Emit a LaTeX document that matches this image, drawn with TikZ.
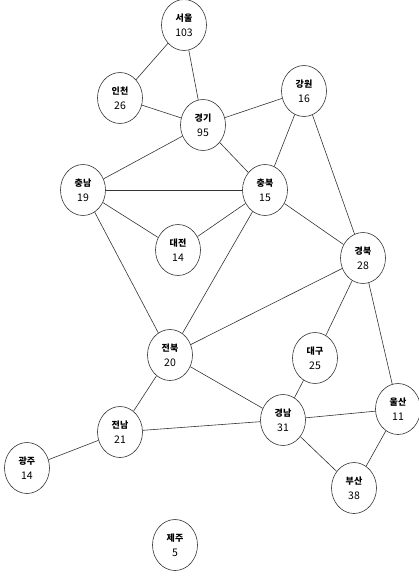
\documentclass[tikz,border=0pt]{standalone}
\usepackage{fontspec}
\setmainfont{Noto Sans CJK KR}
\usetikzlibrary{
	shapes.geometric,
	positioning
}

\begin{document}
\begin{tikzpicture}[
		x=1pt, y=-1pt,
		region/.style={draw=black!80, ellipse, semithick, align=center, inner sep=0pt, minimum width=45pt, minimum height=51pt, font=\fontsize{10.5}{15}\selectfont},
		link/.style={draw=black!80, semithick}
		]
		
		\useasboundingbox (0,0) rectangle (419,578);
		
		% Nodes
		\node[region] (seoul) at (184,25) {\textbf{\small 서울}\\103};
		\node[region] (incheon) at (120,98) {\textbf{\small 인천}\\26};
		\node[region] (gyeonggi) at (203,125) {\textbf{\small 경기}\\95};
		\node[region] (gangwon) at (304,91) {\textbf{\small 강원}\\16};
		\node[region] (chungnam) at (83,190) {\textbf{\small 충남}\\19};
		\node[region] (chungbuk) at (265,190) {\textbf{\small 충북}\\15};
		\node[region] (daejeon) at (178,250) {\textbf{\small 대전}\\14};
		\node[region] (gyeongbuk) at (363,258) {\textbf{\small 경북}\\28};
		\node[region] (jeonbuk) at (170,355) {\textbf{\small 전북}\\20};
		\node[region] (daegu) at (315,358) {\textbf{\small 대구}\\25};
		\node[region] (ulsan) at (398,409) {\textbf{\small 울산}\\11};
		\node[region] (gyeongnam) at (283,420) {\textbf{\small 경남}\\31};
		\node[region] (jeonnam) at (120,432) {\textbf{\small 전남}\\21};
		\node[region] (gwangju) at (27,468) {\textbf{\small 광주}\\14};
		\node[region] (busan) at (354,488) {\textbf{\small 부산}\\38};
		\node[region] (jeju) at (175,545) {\textbf{\small 제주}\\5};
		
		% Edges
		\draw[link] (seoul) -- (incheon);
		\draw[link] (seoul) -- (gyeonggi);
		\draw[link] (incheon) -- (gyeonggi);
		\draw[link] (gyeonggi) -- (gangwon);
		\draw[link] (gyeonggi) -- (chungnam);
		\draw[link] (gyeonggi) -- (chungbuk);
		\draw[link] (gangwon) -- (chungbuk);
		\draw[link] (gangwon) -- (gyeongbuk);
		\draw[link] (chungnam) -- (chungbuk);
		\draw[link] (chungnam) -- (daejeon);
		\draw[link] (chungnam) -- (jeonbuk);
		\draw[link] (daejeon) -- (chungbuk);
		\draw[link] (chungbuk) -- (jeonbuk);
		\draw[link] (chungbuk) -- (gyeongbuk);
		\draw[link] (gyeongbuk) -- (jeonbuk);
		\draw[link] (gyeongbuk) -- (daegu);
		\draw[link] (gyeongbuk) -- (ulsan);
		\draw[link] (jeonbuk) -- (jeonnam);
		\draw[link] (jeonbuk) -- (gyeongnam);
		\draw[link] (daegu) -- (gyeongnam);
		\draw[link] (ulsan) -- (gyeongnam);
		\draw[link] (ulsan) -- (busan);
		\draw[link] (gyeongnam) -- (jeonnam);
		\draw[link] (gyeongnam) -- (busan);
		\draw[link] (jeonnam) -- (gwangju);
		
	\end{tikzpicture}
\end{document}
